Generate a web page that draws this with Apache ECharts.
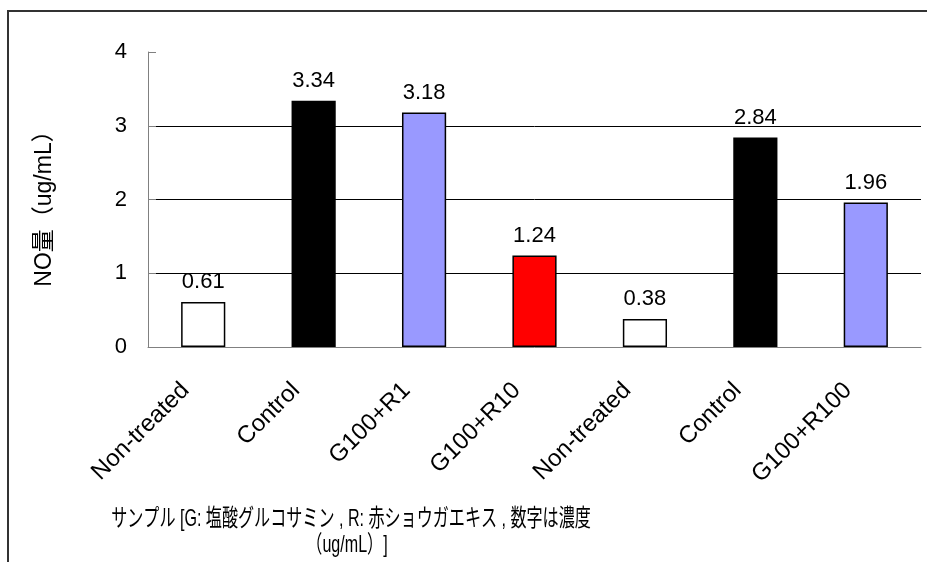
<!DOCTYPE html>
<html><head><meta charset="utf-8">
<script src="https://cdn.jsdelivr.net/npm/echarts@6/dist/echarts.min.js"></script>
<style>html,body{margin:0;padding:0;background:#fff}#c{width:927px;height:562px}</style>
</head><body><div id="c"></div>
<script>
var categories = ['Non-treated','Control','G100+R1','G100+R10','Non-treated','Control','G100+R100'];
var values = [0.61, 3.34, 3.18, 1.24, 0.38, 2.84, 1.96];
var barColors = ['#FFFFFF','#000000','#9999FF','#FF0000','#FFFFFF','#000000','#9999FF'];
var yTicks = [0, 1, 2, 3, 4];
var yAxisTitle = 'NO量（ug/mL）';
var xAxisTitle1 = 'サンプル [G: 塩酸グルコサミン , R: 赤ショウガエキス , 数字は濃度';
var xAxisTitle2 = '（ug/mL）]';

var latin = '"Liberation Sans", Arial, sans-serif';
var cjk = '"Liberation Sans", "Noto Sans CJK JP", sans-serif';
var chart = echarts.init(document.getElementById('c'), null, {renderer:'canvas'});
chart.setOption({
  animation: false,
  backgroundColor: '#fff',
  grid: {left: 148, right: 6, top: 52, bottom: 215, containLabel: false},
  xAxis: {
    type: 'category', data: categories,
    axisLine: {lineStyle: {color: '#808080', width: 1}},
    axisTick: {show: false},
    axisLabel: {rotate: 45, interval: 0, color: '#000', fontSize: 24, fontFamily: latin, margin: 22, padding: [0, 25, 0, 0]}
  },
  yAxis: {
    type: 'value', min: yTicks[0], max: yTicks[yTicks.length-1], interval: 1,
    axisLine: {show: true, lineStyle: {color: '#808080', width: 1}},
    axisTick: {show: true, inside: true, length: 8, lineStyle: {color: '#808080'}},
    axisLabel: {color: '#000', fontSize: 22, fontFamily: latin, margin: 21},
    splitLine: {show: true, lineStyle: {color: '#000', width: 1},
      showMinLine: false, showMaxLine: false}
  },
  series: [{
    type: 'bar', barWidth: '40%',
    data: values.map(function(v, i){ return {value: v, itemStyle: {color: barColors[i], borderColor: '#000', borderWidth: 1.5}}; }),
    label: {show: true, position: 'top', distance: 9, color: '#000', fontSize: 22, fontFamily: latin,
      formatter: function(p){ return p.value.toFixed(2); }}
  }],
  graphic: [
    {type: 'rect', shape: {x: 8, y: 11, width: 940, height: 580}, style: {fill: 'none', stroke: '#333', lineWidth: 2}, silent: true, z: 100},
    {type: 'text', x: 45, y: 203, rotation: Math.PI/2,
      style: {text: yAxisTitle, fontSize: 23, fontFamily: cjk, fill: '#000', textAlign: 'center', textVerticalAlign: 'middle'}},
    {type: 'text', x: 351, y: 519, scaleX: 0.67,
      style: {text: xAxisTitle1, fontSize: 24, fontFamily: cjk, fill: '#000', textAlign: 'center', textVerticalAlign: 'middle'}},
    {type: 'text', x: 347, y: 545, scaleX: 0.67,
      style: {text: xAxisTitle2, fontSize: 24, fontFamily: cjk, fill: '#000', textAlign: 'center', textVerticalAlign: 'middle'}}
  ]
});
</script></body></html>
